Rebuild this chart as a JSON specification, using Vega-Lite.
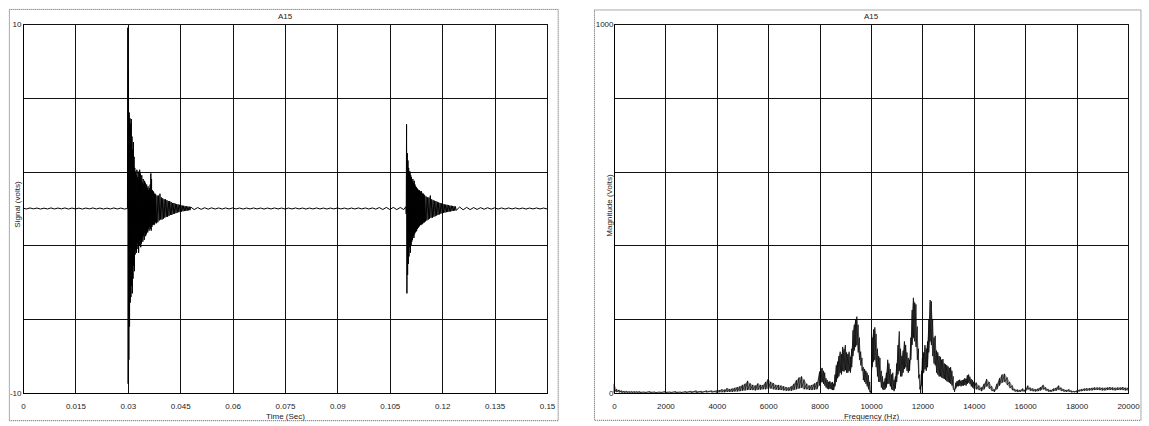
{
"$schema": "https://vega.github.io/schema/vega-lite/v6.json",
"background": "white",
"padding": {"left": 8, "top": 8, "right": 0, "bottom": 0},
"bounds": "flush",
"spacing": 67,
"config": {
  "font": "Liberation Sans",
  "view": {"stroke": "#000", "strokeWidth": 1},
  "axis": {"domain": true, "domainColor": "#000", "grid": true, "gridColor": "#111", "gridWidth": 1, "gridOpacity": 1, "ticks": false, "tickSize": 0, "labelFont": "Liberation Sans", "labelFontSize": 8, "labelColor": "#222", "titleFont": "Liberation Sans", "titleFontSize": 8, "titleFontWeight": "normal", "titleColor": "#222", "labelFlush": false, "labelOverlap": false},
  "title": {"fontSize": 8, "fontWeight": "normal", "font": "Liberation Sans", "color": "#222", "offset": -11.6, "baseline": "alphabetic", "frame": "group", "anchor": "middle"}
},
"datasets": {
"signal": [
{"t":0,"v":0.02},{"t":0.001,"v":-0.025},{"t":0.002,"v":0.03},{"t":0.003,"v":-0.02},{"t":0.004,"v":0.025},{"t":0.005,"v":-0.03},{"t":0.006,"v":0.02},{"t":0.007,"v":-0.025},{"t":0.008,"v":0.03},{"t":0.009,"v":-0.025},{"t":0.01,"v":0.025},{"t":0.011,"v":-0.02},{"t":0.012,"v":0.03},{"t":0.013,"v":-0.03},{"t":0.014,"v":0.025},{"t":0.015,"v":-0.025},{"t":0.016,"v":0.02},{"t":0.017,"v":-0.03},{"t":0.018,"v":0.025},{"t":0.019,"v":-0.02},{"t":0.02,"v":0.03},{"t":0.021,"v":-0.025},{"t":0.022,"v":0.025},{"t":0.023,"v":-0.03},{"t":0.024,"v":0.02},{"t":0.025,"v":-0.025},{"t":0.026,"v":0.03},{"t":0.027,"v":-0.025},{"t":0.028,"v":0.025},{"t":0.029,"v":-0.03},
{"t":0.0299,"v":0},{"t":0.03,"v":9.8},{"t":0.0301,"v":-9.5},{"t":0.0302,"v":7.5},{"t":0.0303,"v":-8.2},{"t":0.0304,"v":5.2},{"t":0.0305,"v":-6.4},{"t":0.0306,"v":4.9},{"t":0.0307,"v":-5.1},{"t":0.0308,"v":4.6},{"t":0.0309,"v":-4.8},{"t":0.031,"v":4.85},{"t":0.0311,"v":-4.2},{"t":0.0312,"v":3.9},{"t":0.0313,"v":-4.6},{"t":0.0314,"v":3.2},{"t":0.0315,"v":-3.8},{"t":0.0316,"v":3.6},{"t":0.0317,"v":-3.1},{"t":0.0318,"v":2.8},{"t":0.0319,"v":-3.4},
{"t":0.032,"v":2.2},{"t":0.0321,"v":-2.5},{"t":0.0322,"v":2.0},{"t":0.0323,"v":-2.3},{"t":0.0324,"v":1.8},{"t":0.0325,"v":-2.4},{"t":0.0326,"v":2.1},{"t":0.0327,"v":-1.9},{"t":0.0328,"v":1.7},{"t":0.0329,"v":-2.2},{"t":0.033,"v":2.0},{"t":0.0331,"v":-2.4},{"t":0.0332,"v":1.6},{"t":0.0333,"v":-2.0},{"t":0.0334,"v":2.1},{"t":0.0335,"v":-1.7},{"t":0.0336,"v":1.9},{"t":0.0337,"v":-2.1},{"t":0.0338,"v":1.5},{"t":0.0339,"v":-1.9},
{"t":0.034,"v":1.8},{"t":0.0341,"v":-1.6},{"t":0.0342,"v":1.4},{"t":0.0343,"v":-1.8},{"t":0.0344,"v":1.6},{"t":0.0345,"v":-1.5},{"t":0.0346,"v":1.3},{"t":0.0347,"v":-1.7},{"t":0.0348,"v":1.5},{"t":0.0349,"v":-1.3},{"t":0.035,"v":1.4},{"t":0.0351,"v":-1.5},{"t":0.0352,"v":1.2},{"t":0.0353,"v":-1.4},{"t":0.0354,"v":1.3},{"t":0.0355,"v":-1.2},{"t":0.0356,"v":1.1},{"t":0.0357,"v":-1.3},{"t":0.0358,"v":1.2},{"t":0.0359,"v":-1.1},
{"t":0.036,"v":1.0},{"t":0.0361,"v":-1.2},{"t":0.0362,"v":1.1},{"t":0.0363,"v":-1.0},{"t":0.0364,"v":1.3},{"t":0.0365,"v":-1.1},{"t":0.0366,"v":1.9},{"t":0.0367,"v":-1.2},{"t":0.0368,"v":1.6},{"t":0.0369,"v":-1.0},{"t":0.037,"v":1.0},{"t":0.0371,"v":-0.9},{"t":0.0372,"v":0.95},{"t":0.0373,"v":-0.85},{"t":0.0374,"v":0.9},{"t":0.0375,"v":-0.9},{"t":0.0376,"v":0.8},{"t":0.0377,"v":-0.85},{"t":0.0378,"v":0.8},{"t":0.0379,"v":-0.75},{"t":0.038,"v":0.75},
{"t":0.0382,"v":-0.8},{"t":0.0384,"v":0.7},{"t":0.0386,"v":-0.75},{"t":0.0388,"v":0.7},{"t":0.039,"v":-0.65},{"t":0.0392,"v":0.8},{"t":0.0394,"v":-0.6},{"t":0.0396,"v":0.6},{"t":0.0398,"v":-0.6},{"t":0.04,"v":0.55},{"t":0.0402,"v":-0.55},{"t":0.0404,"v":0.5},{"t":0.0406,"v":-0.5},{"t":0.0408,"v":0.5},{"t":0.041,"v":-0.45},{"t":0.0412,"v":0.45},{"t":0.0414,"v":-0.45},{"t":0.0416,"v":0.4},{"t":0.0418,"v":-0.4},{"t":0.042,"v":0.4},{"t":0.0422,"v":-0.35},{"t":0.0424,"v":0.35},{"t":0.0426,"v":-0.35},{"t":0.0428,"v":0.3},{"t":0.043,"v":-0.3},{"t":0.0432,"v":0.3},{"t":0.0434,"v":-0.28},{"t":0.0436,"v":0.26},{"t":0.0438,"v":-0.25},{"t":0.044,"v":0.24},{"t":0.0442,"v":-0.22},{"t":0.0444,"v":0.22},{"t":0.0446,"v":-0.2},{"t":0.0448,"v":0.2},{"t":0.045,"v":-0.18},{"t":0.0452,"v":0.18},{"t":0.0454,"v":-0.17},{"t":0.0456,"v":0.16},{"t":0.0458,"v":-0.15},{"t":0.046,"v":0.15},{"t":0.0462,"v":-0.14},{"t":0.0464,"v":0.13},{"t":0.0466,"v":-0.13},{"t":0.0468,"v":0.12},{"t":0.047,"v":-0.12},{"t":0.0472,"v":0.11},{"t":0.0474,"v":-0.1},{"t":0.0476,"v":0.1},{"t":0.0478,"v":-0.09},{"t":0.048,"v":0.08},
{"t":0.049,"v":-0.06},{"t":0.05,"v":0.05},{"t":0.051,"v":-0.045},{"t":0.052,"v":0.04},{"t":0.053,"v":-0.035},{"t":0.054,"v":0.035},{"t":0.055,"v":-0.03},{"t":0.056,"v":0.03},{"t":0.057,"v":-0.03},{"t":0.058,"v":0.03},{"t":0.059,"v":-0.025},{"t":0.06,"v":0.03},{"t":0.061,"v":-0.025},{"t":0.062,"v":0.025},{"t":0.063,"v":-0.03},{"t":0.064,"v":0.025},{"t":0.065,"v":-0.025},{"t":0.066,"v":0.03},{"t":0.067,"v":-0.025},{"t":0.068,"v":0.025},{"t":0.069,"v":-0.03},{"t":0.07,"v":0.025},{"t":0.071,"v":-0.025},{"t":0.072,"v":0.03},{"t":0.073,"v":-0.025},{"t":0.074,"v":0.025},{"t":0.075,"v":-0.03},{"t":0.076,"v":0.025},{"t":0.077,"v":-0.025},{"t":0.078,"v":0.03},{"t":0.079,"v":-0.025},{"t":0.08,"v":0.025},{"t":0.081,"v":-0.03},{"t":0.082,"v":0.025},{"t":0.083,"v":-0.025},{"t":0.084,"v":0.03},{"t":0.085,"v":-0.025},{"t":0.086,"v":0.025},{"t":0.087,"v":-0.03},{"t":0.088,"v":0.025},{"t":0.089,"v":-0.025},{"t":0.09,"v":0.03},{"t":0.091,"v":-0.025},{"t":0.092,"v":0.025},{"t":0.093,"v":-0.03},{"t":0.094,"v":0.025},{"t":0.095,"v":-0.025},{"t":0.096,"v":0.03},{"t":0.097,"v":-0.025},{"t":0.098,"v":0.03},{"t":0.099,"v":-0.03},{"t":0.1,"v":0.03},{"t":0.101,"v":-0.035},{"t":0.102,"v":0.05},{"t":0.103,"v":-0.055},{"t":0.104,"v":0.06},{"t":0.105,"v":-0.055},{"t":0.106,"v":0.06},{"t":0.107,"v":-0.06},{"t":0.108,"v":0.055},{"t":0.109,"v":-0.06},
{"t":0.1096,"v":0.1},{"t":0.1097,"v":-0.3},{"t":0.1098,"v":4.56},{"t":0.1099,"v":-4.6},{"t":0.11,"v":3.0},{"t":0.1101,"v":-3.6},{"t":0.1102,"v":2.6},{"t":0.1103,"v":-3.0},{"t":0.1104,"v":2.2},{"t":0.1105,"v":-2.6},{"t":0.1106,"v":2.0},{"t":0.1107,"v":-2.1},{"t":0.1108,"v":2.0},{"t":0.1109,"v":-2.4},{"t":0.111,"v":1.8},{"t":0.1111,"v":-2.0},{"t":0.1112,"v":1.7},{"t":0.1113,"v":-1.8},{"t":0.1114,"v":1.5},{"t":0.1115,"v":-1.7},{"t":0.1116,"v":1.6},{"t":0.1117,"v":-1.5},{"t":0.1118,"v":1.4},{"t":0.1119,"v":-1.6},{"t":0.112,"v":1.5},{"t":0.1121,"v":-1.4},{"t":0.1122,"v":1.3},{"t":0.1123,"v":-1.3},{"t":0.1124,"v":1.2},{"t":0.1125,"v":-1.25},{"t":0.1126,"v":1.15},{"t":0.1127,"v":-1.2},{"t":0.1128,"v":1.1},{"t":0.1129,"v":-1.1},{"t":0.113,"v":1.05},{"t":0.1131,"v":-1.05},{"t":0.1132,"v":1.0},{"t":0.1133,"v":-1.0},{"t":0.1134,"v":1.0},{"t":0.1135,"v":-0.95},{"t":0.1136,"v":0.95},{"t":0.1137,"v":-0.9},{"t":0.1138,"v":0.9},{"t":0.1139,"v":-0.9},{"t":0.114,"v":0.95},{"t":0.1141,"v":-0.85},{"t":0.1142,"v":0.85},{"t":0.1143,"v":-0.85},{"t":0.1144,"v":0.8},{"t":0.1145,"v":-0.8},{"t":0.1146,"v":0.8},{"t":0.1147,"v":-0.75},{"t":0.1148,"v":0.75},{"t":0.1149,"v":-0.75},{"t":0.115,"v":0.7},
{"t":0.1152,"v":-0.7},{"t":0.1154,"v":0.65},{"t":0.1156,"v":-0.65},{"t":0.1158,"v":0.6},{"t":0.116,"v":-0.6},{"t":0.1162,"v":0.6},{"t":0.1164,"v":-0.55},{"t":0.1166,"v":0.7},{"t":0.1168,"v":-0.5},{"t":0.117,"v":0.5},{"t":0.1172,"v":-0.5},{"t":0.1174,"v":0.45},{"t":0.1176,"v":-0.45},{"t":0.1178,"v":0.42},{"t":0.118,"v":-0.42},{"t":0.1182,"v":0.4},{"t":0.1184,"v":-0.38},{"t":0.1186,"v":0.36},{"t":0.1188,"v":-0.35},{"t":0.119,"v":0.33},{"t":0.1192,"v":-0.32},{"t":0.1194,"v":0.3},{"t":0.1196,"v":-0.28},{"t":0.1198,"v":0.27},{"t":0.12,"v":-0.26},{"t":0.1202,"v":0.25},{"t":0.1204,"v":-0.24},{"t":0.1206,"v":0.23},{"t":0.1208,"v":-0.22},{"t":0.121,"v":0.21},{"t":0.1212,"v":-0.2},{"t":0.1214,"v":0.2},{"t":0.1216,"v":-0.19},{"t":0.1218,"v":0.18},{"t":0.122,"v":-0.17},{"t":0.1222,"v":0.16},{"t":0.1224,"v":-0.16},{"t":0.1226,"v":0.15},{"t":0.1228,"v":-0.14},{"t":0.123,"v":0.14},{"t":0.1232,"v":-0.13},{"t":0.1234,"v":0.12},{"t":0.1236,"v":-0.12},{"t":0.1238,"v":0.11},{"t":0.124,"v":-0.1},
{"t":0.125,"v":0.08},{"t":0.126,"v":-0.07},{"t":0.127,"v":0.06},{"t":0.128,"v":-0.06},{"t":0.129,"v":0.05},{"t":0.13,"v":-0.05},{"t":0.131,"v":0.045},{"t":0.132,"v":-0.04},{"t":0.133,"v":0.04},{"t":0.134,"v":-0.035},{"t":0.135,"v":0.035},{"t":0.136,"v":-0.03},{"t":0.137,"v":0.03},{"t":0.138,"v":-0.03},{"t":0.139,"v":0.03},{"t":0.14,"v":-0.025},{"t":0.141,"v":0.03},{"t":0.142,"v":-0.025},{"t":0.143,"v":0.025},{"t":0.144,"v":-0.03},{"t":0.145,"v":0.025},{"t":0.146,"v":-0.025},{"t":0.147,"v":0.03},{"t":0.148,"v":-0.025},{"t":0.149,"v":0.025},{"t":0.15,"v":-0.025}
],
"spectrum": [
{"f":0,"hi":25,"lo":2},{"f":100,"hi":10,"lo":3},{"f":200,"hi":8,"lo":2},{"f":300,"hi":6,"lo":1},{"f":400,"hi":5,"lo":1},{"f":500,"hi":5,"lo":1},{"f":600,"hi":4,"lo":1},{"f":700,"hi":4,"lo":1},{"f":800,"hi":4,"lo":1},{"f":900,"hi":4,"lo":1},{"f":1000,"hi":4,"lo":1},{"f":1200,"hi":3,"lo":1},{"f":1400,"hi":4,"lo":1},{"f":1600,"hi":3,"lo":1},{"f":1800,"hi":3,"lo":1},{"f":2000,"hi":4,"lo":1},{"f":2200,"hi":3,"lo":1},{"f":2400,"hi":4,"lo":1},{"f":2600,"hi":3,"lo":1},{"f":2800,"hi":4,"lo":1},{"f":3000,"hi":5,"lo":1},{"f":3200,"hi":6,"lo":1},{"f":3400,"hi":5,"lo":1},{"f":3600,"hi":6,"lo":2},{"f":3800,"hi":6,"lo":2},
{"f":4000,"hi":6,"lo":1},{"f":4100,"hi":8,"lo":2},{"f":4200,"hi":10,"lo":2},{"f":4300,"hi":9,"lo":2},{"f":4400,"hi":13,"lo":3},{"f":4500,"hi":11,"lo":3},{"f":4600,"hi":12,"lo":3},{"f":4700,"hi":14,"lo":4},{"f":4800,"hi":16,"lo":4},{"f":4900,"hi":18,"lo":5},{"f":5000,"hi":22,"lo":6},{"f":5100,"hi":25,"lo":7},{"f":5200,"hi":33,"lo":8},{"f":5300,"hi":26,"lo":8},{"f":5400,"hi":22,"lo":8},{"f":5500,"hi":20,"lo":7},{"f":5600,"hi":26,"lo":9},{"f":5700,"hi":22,"lo":9},{"f":5800,"hi":22,"lo":10},{"f":5900,"hi":30,"lo":10},{"f":6000,"hi":38,"lo":12},{"f":6100,"hi":30,"lo":12},{"f":6200,"hi":27,"lo":10},{"f":6300,"hi":22,"lo":9},{"f":6400,"hi":22,"lo":8},{"f":6500,"hi":20,"lo":8},{"f":6600,"hi":18,"lo":7},{"f":6700,"hi":16,"lo":6},{"f":6800,"hi":15,"lo":6},{"f":6900,"hi":18,"lo":6},{"f":7000,"hi":25,"lo":8},{"f":7100,"hi":35,"lo":10},{"f":7200,"hi":42,"lo":12},{"f":7300,"hi":45,"lo":14},{"f":7400,"hi":36,"lo":10},{"f":7500,"hi":25,"lo":10},{"f":7600,"hi":20,"lo":8},{"f":7700,"hi":22,"lo":8},{"f":7800,"hi":26,"lo":9},{"f":7900,"hi":30,"lo":10},
{"f":8000,"hi":58,"lo":20},{"f":8050,"hi":66,"lo":28},{"f":8100,"hi":68,"lo":30},{"f":8150,"hi":60,"lo":25},{"f":8200,"hi":55,"lo":20},{"f":8250,"hi":40,"lo":15},{"f":8300,"hi":35,"lo":12},{"f":8350,"hi":30,"lo":10},{"f":8400,"hi":32,"lo":12},{"f":8450,"hi":28,"lo":10},{"f":8500,"hi":30,"lo":8},{"f":8550,"hi":25,"lo":8},{"f":8600,"hi":50,"lo":18},{"f":8650,"hi":75,"lo":30},{"f":8700,"hi":85,"lo":40},{"f":8750,"hi":100,"lo":45},{"f":8800,"hi":112,"lo":55},{"f":8850,"hi":105,"lo":50},{"f":8900,"hi":125,"lo":60},{"f":8950,"hi":118,"lo":58},{"f":9000,"hi":130,"lo":62},{"f":9050,"hi":110,"lo":55},{"f":9100,"hi":105,"lo":55},{"f":9150,"hi":112,"lo":60},{"f":9200,"hi":98,"lo":55},{"f":9250,"hi":120,"lo":70},{"f":9300,"hi":170,"lo":100},{"f":9350,"hi":185,"lo":115},{"f":9400,"hi":200,"lo":125},{"f":9450,"hi":207,"lo":130},{"f":9500,"hi":185,"lo":110},{"f":9550,"hi":150,"lo":90},{"f":9600,"hi":112,"lo":75},{"f":9650,"hi":95,"lo":60},{"f":9700,"hi":70,"lo":35},{"f":9750,"hi":65,"lo":30},{"f":9800,"hi":60,"lo":25},{"f":9850,"hi":55,"lo":18},{"f":9900,"hi":48,"lo":10},{"f":9950,"hi":30,"lo":3},
{"f":10000,"hi":5,"lo":0},{"f":10050,"hi":150,"lo":70},{"f":10100,"hi":172,"lo":85},{"f":10150,"hi":178,"lo":90},{"f":10200,"hi":160,"lo":70},{"f":10250,"hi":120,"lo":45},{"f":10300,"hi":100,"lo":30},{"f":10350,"hi":95,"lo":30},{"f":10400,"hi":60,"lo":15},{"f":10450,"hi":45,"lo":10},{"f":10500,"hi":30,"lo":8},{"f":10550,"hi":40,"lo":10},{"f":10600,"hi":55,"lo":15},{"f":10650,"hi":90,"lo":25},{"f":10700,"hi":80,"lo":25},{"f":10750,"hi":65,"lo":18},{"f":10800,"hi":50,"lo":10},{"f":10850,"hi":55,"lo":8},{"f":10900,"hi":35,"lo":5},{"f":10950,"hi":45,"lo":12},{"f":11000,"hi":80,"lo":30},{"f":11050,"hi":130,"lo":50},{"f":11100,"hi":167,"lo":60},{"f":11150,"hi":120,"lo":45},{"f":11200,"hi":100,"lo":45},{"f":11250,"hi":115,"lo":55},{"f":11300,"hi":140,"lo":65},{"f":11350,"hi":130,"lo":70},{"f":11400,"hi":110,"lo":60},{"f":11450,"hi":95,"lo":55},{"f":11500,"hi":90,"lo":60},{"f":11550,"hi":150,"lo":90},{"f":11600,"hi":225,"lo":130},{"f":11650,"hi":258,"lo":150},{"f":11700,"hi":245,"lo":140},{"f":11750,"hi":240,"lo":125},{"f":11800,"hi":180,"lo":90},{"f":11850,"hi":120,"lo":40},{"f":11900,"hi":50,"lo":10},{"f":11930,"hi":20,"lo":0},{"f":11970,"hi":60,"lo":20},
{"f":12000,"hi":95,"lo":45},{"f":12050,"hi":110,"lo":55},{"f":12100,"hi":130,"lo":65},{"f":12150,"hi":120,"lo":60},{"f":12200,"hi":140,"lo":70},{"f":12250,"hi":200,"lo":110},{"f":12300,"hi":252,"lo":140},{"f":12350,"hi":248,"lo":130},{"f":12400,"hi":200,"lo":100},{"f":12450,"hi":150,"lo":80},{"f":12500,"hi":155,"lo":75},{"f":12550,"hi":115,"lo":55},{"f":12600,"hi":110,"lo":50},{"f":12650,"hi":100,"lo":45},{"f":12700,"hi":98,"lo":45},{"f":12750,"hi":90,"lo":42},{"f":12800,"hi":92,"lo":40},{"f":12850,"hi":80,"lo":38},{"f":12900,"hi":78,"lo":35},{"f":12950,"hi":75,"lo":32},{"f":13000,"hi":72,"lo":30},{"f":13050,"hi":68,"lo":28},{"f":13100,"hi":70,"lo":25},{"f":13150,"hi":60,"lo":20},{"f":13200,"hi":45,"lo":10},{"f":13250,"hi":10,"lo":3},{"f":13300,"hi":28,"lo":12},{"f":13350,"hi":32,"lo":18},{"f":13400,"hi":34,"lo":18},{"f":13450,"hi":36,"lo":20},{"f":13500,"hi":33,"lo":18},{"f":13550,"hi":35,"lo":20},{"f":13600,"hi":36,"lo":20},{"f":13650,"hi":40,"lo":22},{"f":13700,"hi":38,"lo":20},{"f":13750,"hi":48,"lo":25},{"f":13800,"hi":50,"lo":28},{"f":13850,"hi":44,"lo":24},{"f":13900,"hi":38,"lo":18},{"f":13950,"hi":35,"lo":15},{"f":14000,"hi":30,"lo":12},
{"f":14100,"hi":28,"lo":10},{"f":14200,"hi":20,"lo":8},{"f":14300,"hi":15,"lo":5},{"f":14400,"hi":25,"lo":10},{"f":14500,"hi":38,"lo":18},{"f":14600,"hi":30,"lo":12},{"f":14700,"hi":18,"lo":6},{"f":14800,"hi":9,"lo":3},{"f":14900,"hi":25,"lo":10},{"f":15000,"hi":40,"lo":20},{"f":15100,"hi":50,"lo":28},{"f":15200,"hi":52,"lo":30},{"f":15300,"hi":42,"lo":22},{"f":15400,"hi":30,"lo":14},{"f":15500,"hi":20,"lo":8},{"f":15600,"hi":10,"lo":4},{"f":15700,"hi":9,"lo":3},{"f":15800,"hi":8,"lo":3},{"f":15900,"hi":12,"lo":5},{"f":16000,"hi":8,"lo":3},{"f":16100,"hi":20,"lo":10},{"f":16200,"hi":14,"lo":6},{"f":16300,"hi":12,"lo":5},{"f":16400,"hi":10,"lo":4},{"f":16500,"hi":12,"lo":5},{"f":16600,"hi":16,"lo":7},{"f":16700,"hi":22,"lo":10},{"f":16800,"hi":15,"lo":7},{"f":16900,"hi":10,"lo":4},{"f":17000,"hi":8,"lo":3},{"f":17100,"hi":12,"lo":5},{"f":17200,"hi":14,"lo":6},{"f":17300,"hi":20,"lo":9},{"f":17400,"hi":14,"lo":6},{"f":17500,"hi":10,"lo":4},{"f":17600,"hi":8,"lo":3},{"f":17700,"hi":10,"lo":4},{"f":17800,"hi":6,"lo":2},{"f":17900,"hi":5,"lo":2},{"f":18000,"hi":6,"lo":2},{"f":18100,"hi":9,"lo":4},{"f":18200,"hi":11,"lo":5},{"f":18300,"hi":12,"lo":6},{"f":18400,"hi":13,"lo":6},{"f":18500,"hi":13,"lo":7},{"f":18600,"hi":14,"lo":7},{"f":18700,"hi":15,"lo":8},{"f":18800,"hi":15,"lo":8},{"f":18900,"hi":15,"lo":8},{"f":19000,"hi":14,"lo":7},{"f":19100,"hi":14,"lo":7},{"f":19200,"hi":15,"lo":8},{"f":19300,"hi":16,"lo":8},{"f":19400,"hi":15,"lo":8},{"f":19500,"hi":14,"lo":7},{"f":19600,"hi":15,"lo":8},{"f":19700,"hi":15,"lo":8},{"f":19800,"hi":16,"lo":8},{"f":19900,"hi":14,"lo":7},{"f":20000,"hi":14,"lo":7}
]
},
"hconcat": [
{
  "width": 524, "height": 369,
  "title": "A15",
  "layer": [
    {
      "data": {"values": [{}]},
      "mark": {"type": "rect", "filled": false, "stroke": "#555", "strokeWidth": 1, "strokeDash": [1, 1]},
      "encoding": {
        "x": {"datum": -0.0039, "type": "quantitative", "scale": {"domain": [0, 0.15], "nice": false, "zero": false}, "axis": {"title": "Time (Sec)", "values": [0, 0.015, 0.03, 0.045, 0.06, 0.075, 0.09, 0.105, 0.12, 0.135, 0.15], "format": ".3~g", "labelPadding": 9, "titleY": 19}},
        "x2": {"datum": 0.1532},
        "y": {"datum": 10.79, "type": "quantitative", "scale": {"domain": [-10, 10], "nice": false, "zero": false}, "axis": {"title": "Signal (volts)", "values": [-10, -6, -2, 2, 6, 10], "labelExpr": "datum.value == 10 ? '10' : (datum.value == -10 ? '-10' : '')", "labelPadding": 2, "titleX": -2, "titleY": 180}},
        "y2": {"datum": -11.5}
      }
    },
    {
      "data": {"name": "signal"},
      "mark": {"type": "line", "color": "#000", "strokeWidth": 1},
      "encoding": {
        "x": {"field": "t", "type": "quantitative", "scale": {"domain": [0, 0.15], "nice": false, "zero": false}, "axis": {"title": "Time (Sec)", "values": [0, 0.015, 0.03, 0.045, 0.06, 0.075, 0.09, 0.105, 0.12, 0.135, 0.15], "format": ".3~g", "labelPadding": 9, "titleY": 19}},
        "y": {"field": "v", "type": "quantitative", "scale": {"domain": [-10, 10], "nice": false, "zero": false}, "axis": {"title": "Signal (volts)", "values": [-10, -6, -2, 2, 6, 10], "labelExpr": "datum.value == 10 ? '10' : (datum.value == -10 ? '-10' : '')", "labelPadding": 2, "titleX": -2, "titleY": 180}}
      }
    }
  ]
},
{
  "width": 514, "height": 369,
  "title": "A15",
  "layer": [
    {
      "data": {"values": [{}]},
      "mark": {"type": "rect", "filled": false, "stroke": "#555", "strokeWidth": 1, "strokeDash": [1, 1]},
      "encoding": {
        "x": {"datum": -760, "type": "quantitative", "scale": {"domain": [0, 20000], "nice": false, "zero": false}, "axis": {"title": "Frequency (Hz)", "values": [0, 2000, 4000, 6000, 8000, 10000, 12000, 14000, 16000, 18000, 20000], "format": "d", "labelPadding": 9, "titleY": 19}},
        "x2": {"datum": 20505},
        "y": {"datum": 1038, "type": "quantitative", "scale": {"domain": [0, 1000], "nice": false, "zero": false}, "axis": {"title": "Magnitude (Volts)", "values": [0, 200, 400, 600, 800, 1000], "labelExpr": "datum.value == 1000 ? '1000' : (datum.value == 0 ? '0' : '')", "labelPadding": 1, "titleX": -1, "titleY": 181}},
        "y2": {"datum": -74}
      }
    },
    {
      "data": {"name": "spectrum"},
      "mark": {"type": "area", "color": "#1a1a1a", "opacity": 0.45},
      "encoding": {
        "x": {"field": "f", "type": "quantitative", "scale": {"domain": [0, 20000], "nice": false, "zero": false}, "axis": {"title": "Frequency (Hz)", "values": [0, 2000, 4000, 6000, 8000, 10000, 12000, 14000, 16000, 18000, 20000], "format": "d", "labelPadding": 9, "titleY": 19}},
        "y": {"field": "hi", "type": "quantitative", "scale": {"domain": [0, 1000], "nice": false, "zero": false}, "axis": {"title": "Magnitude (Volts)", "values": [0, 200, 400, 600, 800, 1000], "labelExpr": "datum.value == 1000 ? '1000' : (datum.value == 0 ? '0' : '')", "labelPadding": 1, "titleX": -1, "titleY": 181}},
        "y2": {"field": "lo"}
      }
    },
    {
      "data": {"name": "spectrum"},
      "transform": [{"fold": ["hi", "lo"], "as": ["edge", "m"]}],
      "mark": {"type": "line", "color": "#000", "strokeWidth": 0.7},
      "encoding": {
        "x": {"field": "f", "type": "quantitative", "scale": {"domain": [0, 20000], "nice": false, "zero": false}, "axis": {"title": "Frequency (Hz)", "values": [0, 2000, 4000, 6000, 8000, 10000, 12000, 14000, 16000, 18000, 20000], "format": "d", "labelPadding": 9, "titleY": 19}},
        "y": {"field": "m", "type": "quantitative", "scale": {"domain": [0, 1000], "nice": false, "zero": false}, "axis": {"title": "Magnitude (Volts)", "values": [0, 200, 400, 600, 800, 1000], "labelExpr": "datum.value == 1000 ? '1000' : (datum.value == 0 ? '0' : '')", "labelPadding": 1, "titleX": -1, "titleY": 181}}
      }
    }
  ]
}
]
}
